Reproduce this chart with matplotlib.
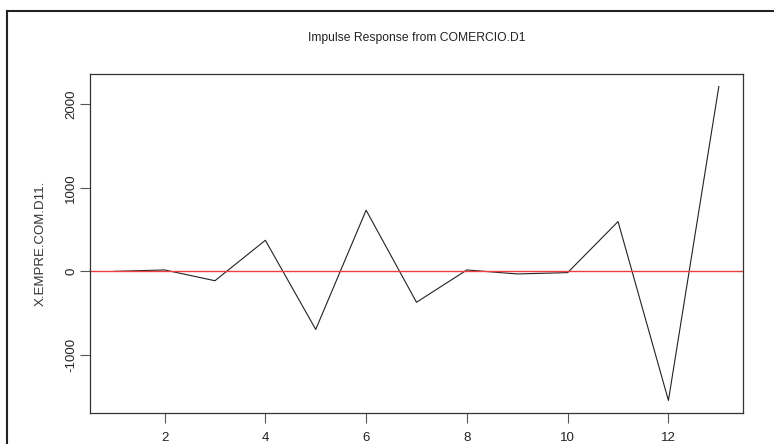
import matplotlib
matplotlib.use("Agg")
from matplotlib import pyplot as plt
from matplotlib.lines import Line2D

# impulse response values, periods 1..13
periods = [1, 2, 3, 4, 5, 6, 7, 8, 9, 10, 11, 12, 13]
response = [0, 17, -112, 372, -695, 732, -370, 17, -31, -15, 596, -1545, 2212]

xticks = [2, 4, 6, 8, 10, 12]
yticks = [-1000, 0, 1000, 2000]

title = "Impulse Response from COMERCIO.D1"
ylabel = "X.EMPRE.COM.D11."

plt.rcParams['font.family'] = ['Liberation Sans', 'DejaVu Sans']

fig = plt.figure(figsize=(7.74, 4.44), dpi=100)
ax = fig.add_axes([90 / 774, 1 - 413 / 444, (743 - 90) / 774, (413 - 74) / 444])

ax.plot(periods, response, color='#222222', lw=0.8)
ax.axhline(0, color='#e8403c', lw=1.0)

# R style 4% padding
span_x = max(periods) - min(periods)
ax.set_xlim(min(periods) - 0.04 * span_x, max(periods) + 0.04 * span_x)
span_y = max(response) - min(response)
ax.set_ylim(min(response) - 0.04 * span_y, max(response) + 0.04 * span_y)

ax.set_xticks(xticks)
ax.set_yticks(yticks)
ax.set_yticklabels([str(v) for v in yticks], rotation=90, va='center')
ax.tick_params(axis='both', direction='out', length=7, width=0.8, color='#555555',
               labelsize=9.5, labelcolor='#222222')
ax.tick_params(axis='x', pad=7)
ax.tick_params(axis='y', pad=2.2)
for s in ax.spines.values():
    s.set_color('#333333')
    s.set_linewidth(0.9)

ax.set_ylabel(ylabel, fontsize=9.5, color='#333333', labelpad=13.4)
fig.text((90 + 743) / 2 / 774, 1 - 38 / 444, title, ha='center', va='center',
         fontsize=8.7, color='#222222')

# outer frame of the device region
fx = 6.5 / 774
fy = 1 - 11.5 / 444
fig.add_artist(Line2D([fx, fx], [0, fy], transform=fig.transFigure, color='#222222', lw=1.5))
fig.add_artist(Line2D([fx, 1], [fy, fy], transform=fig.transFigure, color='#222222', lw=1.5))

fig.savefig("out.png", dpi=100)
